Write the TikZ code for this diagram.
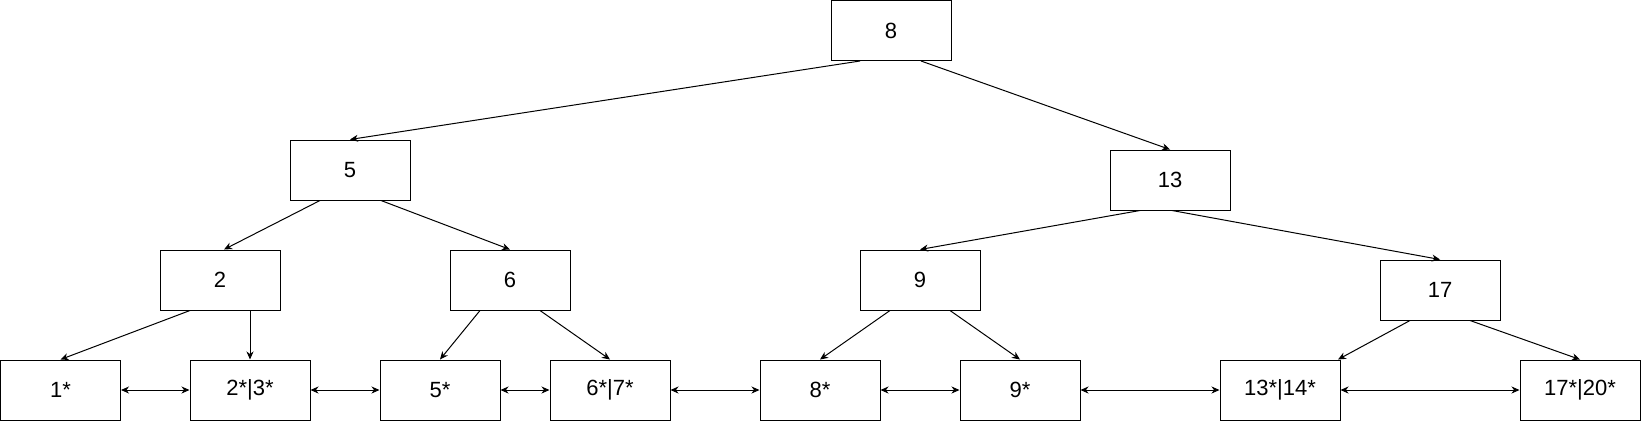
\documentclass[tikz,border=0pt]{standalone}
\usepackage{fontspec}
\setmainfont{Liberation Sans}
\usetikzlibrary{arrows.meta}
\begin{document}
\begin{tikzpicture}[x=1pt,y=-1pt,
  box/.style={draw=black,line width=1pt,minimum width=120pt,minimum height=60pt,inner sep=0pt,font=\fontsize{22}{26}\selectfont},
  edge/.style={line width=1pt,-{Stealth[length=8pt,width=7pt,inset=2.5pt]}},
  link/.style={line width=1pt,{Stealth[length=8pt,width=7pt,inset=2.5pt]}-{Stealth[length=8pt,width=7pt,inset=2.5pt]}}]
\useasboundingbox (0,0) rectangle (1641,421);
% nodes
\node[box] (n8)  at (891,30.5) {8};
\node[box] (n5)  at (350,170) {5};
\node[box] (n13) at (1170,180) {13};
\node[box] (n2)  at (220,280) {2};
\node[box] (n6)  at (510,280) {6};
\node[box] (n9)  at (920,280) {9};
\node[box] (n17) at (1440,290) {17};
\node[box] (l1)    at (60.5,390) {1*};
\node[box] (l23)   at (250,390) {2*|3*};
\node[box] (l5)    at (440,390) {5*};
\node[box] (l67)   at (610,390) {6*|7*};
\node[box] (l8)    at (820,390) {8*};
\node[box] (l9)    at (1020,390) {9*};
\node[box] (l1314) at (1280,390) {13*|14*};
\node[box] (l1720) at (1580,390) {17*|20*};
% tree edges
\draw[edge] ([xshift=-31pt]n8.south) -- (n5.north);
\draw[edge] ([xshift=30pt]n8.south) -- (n13.north);
\draw[edge] ([xshift=-30pt]n5.south) -- ([xshift=4pt]n2.north);
\draw[edge] ([xshift=31pt]n5.south) -- (n6.north);
\draw[edge] ([xshift=-30pt]n13.south) -- (n9.north);
\draw[edge] ([xshift=2pt]n13.south) -- (n17.north);
\draw[edge] ([xshift=-30pt]n2.south) -- (l1.north);
\draw[edge] ([xshift=30pt]n2.south) -- (l23.north);
\draw[edge] ([xshift=-30pt]n6.south) -- (l5.north);
\draw[edge] ([xshift=30pt]n6.south) -- (l67.north);
\draw[edge] ([xshift=-30pt]n9.south) -- (l8.north);
\draw[edge] ([xshift=30pt]n9.south) -- (l9.north);
\draw[edge] ([xshift=-30pt]n17.south) -- ([xshift=58pt]l1314.north);
\draw[edge] ([xshift=30pt]n17.south) -- (l1720.north);
% leaf links
\draw[link] (l1.east) -- (l23.west);
\draw[link] (l23.east) -- (l5.west);
\draw[link] (l5.east) -- (l67.west);
\draw[link] (l67.east) -- (l8.west);
\draw[link] (l8.east) -- (l9.west);
\draw[link] (l9.east) -- (l1314.west);
\draw[link] (l1314.east) -- (l1720.west);
\end{tikzpicture}
\end{document}
